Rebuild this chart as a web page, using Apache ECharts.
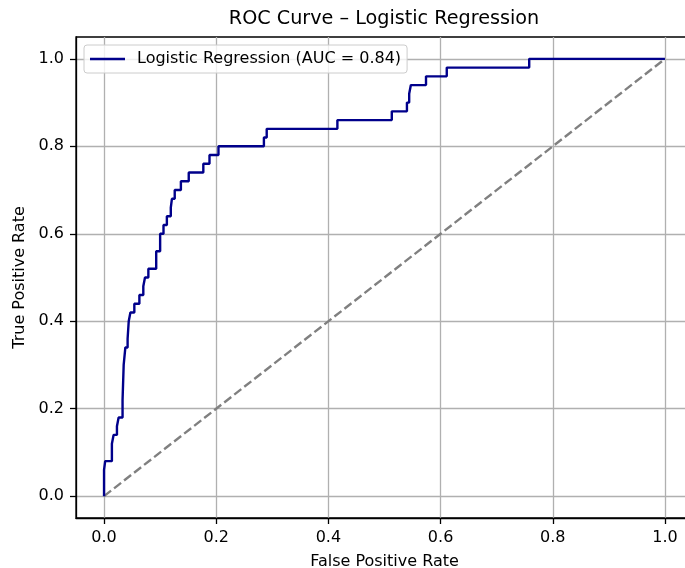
<!DOCTYPE html>
<html>
<head>
<meta charset="utf-8">
<script src="https://cdn.jsdelivr.net/npm/echarts@6/dist/echarts.min.js"></script>
<style>html,body{margin:0;padding:0;background:#fff}#chart{width:685px;height:568px}</style>
</head>
<body>
<div id="chart"></div>
<script>
// ROC curve vertices (False Positive Rate, True Positive Rate)
const fprValues = [0,0,0.002,0.002,0.014,0.014,0.017,0.017,0.023,0.023,0.026,0.026,0.033,0.033,0.035,0.035,0.038,0.038,0.042,0.042,0.044,0.044,0.047,0.047,0.054,0.054,0.063,0.063,0.070,0.070,0.073,0.073,0.079,0.079,0.093,0.093,0.100,0.100,0.106,0.106,0.112,0.112,0.119,0.119,0.121,0.121,0.126,0.126,0.137,0.137,0.151,0.151,0.177,0.177,0.188,0.188,0.204,0.204,0.285,0.285,0.290,0.290,0.416,0.416,0.513,0.513,0.540,0.540,0.544,0.544,0.547,0.547,0.574,0.574,0.611,0.611,0.758,0.758,1.0];
const tprValues = [0,0.06,0.06,0.08,0.08,0.12,0.12,0.14,0.14,0.16,0.16,0.18,0.18,0.22,0.22,0.30,0.30,0.34,0.34,0.36,0.36,0.40,0.40,0.42,0.42,0.44,0.44,0.46,0.46,0.48,0.48,0.50,0.50,0.52,0.52,0.56,0.56,0.60,0.60,0.62,0.62,0.64,0.64,0.66,0.66,0.68,0.68,0.70,0.70,0.72,0.72,0.74,0.74,0.76,0.76,0.78,0.78,0.80,0.80,0.82,0.82,0.84,0.84,0.86,0.86,0.88,0.88,0.90,0.90,0.92,0.92,0.94,0.94,0.96,0.96,0.98,0.98,1.0,1.0];
const diagonalX = [0, 1];
const diagonalY = [0, 1];
const tickValues = [0, 0.2, 0.4, 0.6, 0.8, 1.0];
const curveName = 'Logistic Regression (AUC = 0.84)';
const titleText = 'ROC Curve \u2013 Logistic Regression';

const curveData = fprValues.map((x, i) => [x, tprValues[i]]);
const diagData = diagonalX.map((x, i) => [x, diagonalY[i]]);
const FONT = 'DejaVu Sans';
const FS = 16;

const axisCommon = {
  type: 'value',
  min: -0.05,
  max: 1.05,
  axisLine: { show: true, onZero: false, lineStyle: { color: '#000', width: 1.3 } },
  axisTick: { show: true, inside: false, length: 6, lineStyle: { color: '#000', width: 1.3 }, customValues: tickValues },
  axisLabel: { customValues: tickValues, color: '#000', fontFamily: FONT, fontSize: FS, margin: 12,
               formatter: v => v.toFixed(1) },
  splitLine: { show: true, lineStyle: { color: '#b0b0b0', width: 1.3 } },
  nameLocation: 'middle',
  nameTextStyle: { color: '#000', fontFamily: FONT, fontSize: FS }
};

const chart = echarts.init(document.getElementById('chart'), null, { renderer: 'canvas' });
chart.setOption({
  animation: false,
  backgroundColor: '#fff',
  title: {
    text: titleText, left: 384, top: 10, textAlign: 'center', padding: 0,
    textStyle: { color: '#000', fontFamily: FONT, fontSize: 19.2, fontWeight: 'normal' }
  },
  grid: { left: 76, width: 617, top: 37, height: 481, show: true, borderColor: '#000', borderWidth: 1.3,
          containLabel: false, outerBoundsMode: 'none' },
  legend: {
    data: [curveName], left: 84, top: 45, orient: 'vertical',
    padding: [6, 6, 6, 6], itemWidth: 35, itemHeight: 2.4, icon: 'rect',
    backgroundColor: 'rgba(255,255,255,0.8)', borderColor: '#cccccc', borderWidth: 1, borderRadius: 3,
    textStyle: { color: '#000', fontFamily: FONT, fontSize: FS, padding: [0, 0, 0, 7] }
  },
  xAxis: Object.assign({}, axisCommon, { name: 'False Positive Rate', nameGap: 36 }),
  yAxis: Object.assign({}, axisCommon, { name: 'True Positive Rate', nameGap: 47 }),
  series: [
    {
      name: curveName, type: 'line', data: curveData, showSymbol: false, symbol: 'none',
      lineStyle: { color: '#00008b', width: 2.4 }, itemStyle: { color: '#00008b' }, z: 3
    },
    {
      name: 'diag', type: 'line', data: diagData, showSymbol: false, symbol: 'none',
      lineStyle: { color: '#808080', width: 2.4, type: [8.9, 3.8] }, z: 2
    }
  ]
});
</script>
</body>
</html>
